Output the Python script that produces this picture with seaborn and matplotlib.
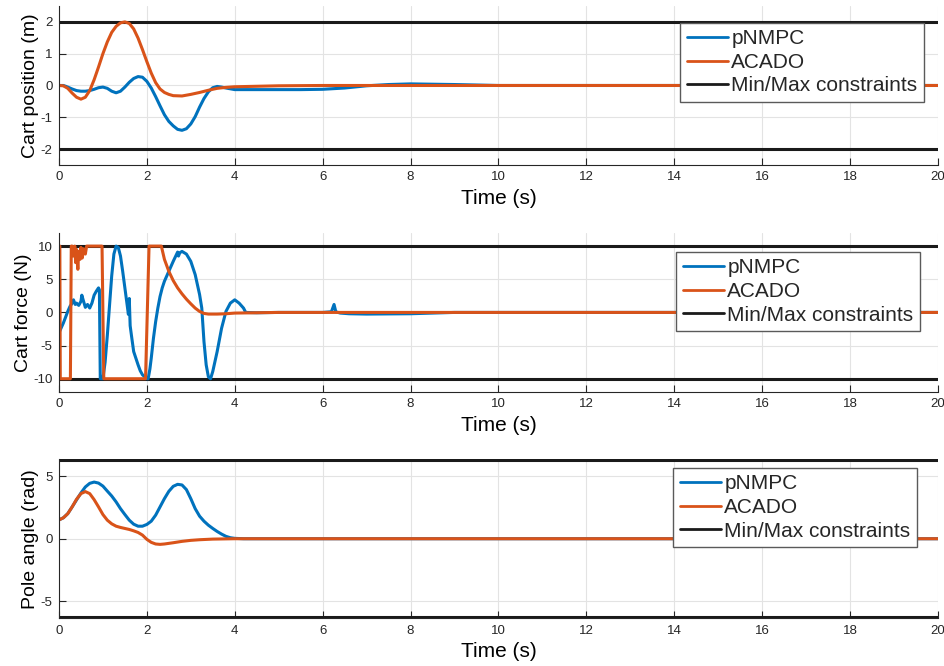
import numpy as np
import pandas as pd
import seaborn as sns
import matplotlib.pyplot as plt

# ---- cart position (m) ----
t_pos_pnmpc = [0, 0.1, 0.2, 0.3, 0.4, 0.5, 0.6, 0.7, 0.8, 0.9, 1.0, 1.1, 1.2, 1.3, 1.4,
               1.5, 1.6, 1.7, 1.8, 1.9, 2.0, 2.1, 2.2, 2.3, 2.4, 2.5, 2.6, 2.7, 2.8, 2.9,
               3.0, 3.1, 3.2, 3.3, 3.4, 3.5, 3.6, 3.7, 3.8, 4.0, 4.5, 5.0, 5.5, 6.0, 6.5,
               7.0, 7.5, 8.0, 8.5, 9.0, 10, 12, 14, 16, 18, 20]
pos_pnmpc = [0, 0, -0.05, -0.11, -0.16, -0.18, -0.18, -0.16, -0.12, -0.07, -0.05, -0.09,
             -0.18, -0.23, -0.18, -0.05, 0.1, 0.22, 0.28, 0.26, 0.13, -0.08, -0.35, -0.64,
             -0.92, -1.13, -1.27, -1.38, -1.41, -1.36, -1.21, -0.98, -0.68, -0.41, -0.2,
             -0.07, -0.03, -0.05, -0.08, -0.13, -0.13, -0.13, -0.13, -0.12, -0.08, -0.01,
             0.03, 0.05, 0.04, 0.03, 0, 0, 0, 0, 0, 0]

t_pos_acado = [0, 0.1, 0.2, 0.3, 0.4, 0.5, 0.6, 0.7, 0.8, 0.9, 1.0, 1.1, 1.2, 1.3, 1.4,
               1.5, 1.6, 1.7, 1.8, 1.9, 2.0, 2.1, 2.2, 2.3, 2.4, 2.5, 2.6, 2.8, 3.0, 3.2,
               3.4, 3.6, 3.8, 4.0, 5.0, 6.0, 8.0, 10, 20]
pos_acado = [0, -0.01, -0.09, -0.24, -0.37, -0.43, -0.37, -0.16, 0.18, 0.58, 1.0, 1.37,
             1.67, 1.86, 1.97, 2.0, 1.95, 1.78, 1.49, 1.13, 0.75, 0.39, 0.09, -0.11, -0.22,
             -0.28, -0.32, -0.33, -0.28, -0.22, -0.15, -0.09, -0.06, -0.04, -0.01, 0, 0, 0, 0]

# ---- cart force (N) ----
t_force_pnmpc = [0, 0.005, 0.1, 0.2, 0.25, 0.3, 0.33, 0.37, 0.4, 0.45, 0.5, 0.52, 0.55,
                 0.6, 0.65, 0.7, 0.75, 0.8, 0.85, 0.9, 0.92, 0.94, 1.0, 1.05, 1.1, 1.15,
                 1.2, 1.25, 1.3, 1.35, 1.4, 1.45, 1.5, 1.55, 1.58, 1.6, 1.62, 1.65, 1.7,
                 1.75, 1.8, 1.85, 1.9, 1.95, 2.0, 2.03, 2.07, 2.1, 2.15, 2.2, 2.25, 2.3,
                 2.35, 2.4, 2.5, 2.6, 2.7, 2.72, 2.75, 2.8, 2.9, 3.0, 3.1, 3.2, 3.25, 3.3,
                 3.35, 3.4, 3.45, 3.5, 3.6, 3.7, 3.8, 3.9, 4.0, 4.1, 4.2, 4.25, 4.5, 5.0,
                 6.0, 6.2, 6.26, 6.3, 6.4, 6.6, 7.0, 8.0, 8.5, 9.0, 10, 20]
force_pnmpc = [1.5, -3.0, -1.6, 0.15, 0.9, 1.4, 1.9, 1.2, 1.4, 1.06, 1.67, 2.6, 1.9,
               0.76, 1.2, 0.66, 1.4, 2.6, 3.2, 3.7, 3.4, -10, -10, -7.5, -3.5, 1.0,
               5.5, 8.8, 10, 9.8, 8.5, 6.2, 3.7, 1.2, -0.3, 2.1, -2.0, -3.5, -5.9,
               -6.9, -7.9, -8.8, -9.4, -9.7, -10, -10, -8.5, -6.9, -3.9, -1.4, 0.65, 2.4,
               3.7, 4.7, 6.2, 7.7, 9.1, 8.5, 9.0, 9.2, 8.8, 7.7, 5.7, 2.7, 0.65, -4.4,
               -7.9, -9.7, -10, -8.9, -5.9, -2.4, 0.15, 1.4, 1.9, 1.4, 0.65, 0, -0.05, 0,
               0, 0.1, 1.2, 0.1, -0.1, -0.2, -0.25, -0.2, -0.1, 0, 0, 0]

t_force_acado = [0, 0.02, 0.03, 0.26, 0.28, 0.30, 0.33, 0.36, 0.38, 0.40, 0.43, 0.45,
                 0.48, 0.50, 0.53, 0.56, 0.60, 0.63, 0.65, 0.98, 1.02, 1.97, 2.05, 2.33,
                 2.4, 2.5, 2.6, 2.7, 2.8, 2.9, 3.0, 3.1, 3.2, 3.3, 3.4, 3.6, 3.8, 4.0,
                 4.5, 5.0, 20]
force_acado = [10, 10, -10, -10, 10, 10, 8.5, 10, 7.5, 9.5, 6.5, 9.2, 8.0, 9.8, 8.2,
               9.6, 8.8, 10, 10, 10, -10, -10, 10, 10, 8.0, 6.2, 4.8, 3.7, 2.8, 2.0, 1.3,
               0.65, 0.15, -0.15, -0.25, -0.25, -0.2, -0.1, -0.05, 0, 0]

# ---- pole angle (rad) ----
t_ang_pnmpc = [0, 0.1, 0.2, 0.3, 0.4, 0.5, 0.6, 0.7, 0.8, 0.9, 1.0, 1.1, 1.2, 1.3, 1.4,
               1.5, 1.6, 1.7, 1.8, 1.9, 2.0, 2.1, 2.2, 2.3, 2.4, 2.5, 2.6, 2.7, 2.8, 2.9,
               3.0, 3.1, 3.2, 3.3, 3.4, 3.5, 3.6, 3.7, 3.8, 3.9, 4.0, 4.2, 6.0, 10, 20]
ang_pnmpc = [1.5, 1.67, 2.0, 2.54, 3.1, 3.65, 4.13, 4.42, 4.52, 4.44, 4.2, 3.8, 3.41,
             2.94, 2.4, 1.93, 1.48, 1.16, 1.0, 1.0, 1.14, 1.4, 1.88, 2.54, 3.2, 3.78, 4.18,
             4.34, 4.29, 3.92, 3.2, 2.4, 1.8, 1.4, 1.08, 0.82, 0.58, 0.37, 0.19, 0.08,
             0.03, 0, 0, 0, 0]

t_ang_acado = [0, 0.1, 0.2, 0.3, 0.4, 0.5, 0.6, 0.7, 0.8, 0.9, 1.0, 1.1, 1.2, 1.3, 1.4,
               1.5, 1.6, 1.7, 1.8, 1.9, 2.0, 2.1, 2.2, 2.3, 2.4, 2.6, 2.8, 3.0, 3.2, 3.5,
               4.0, 6.0, 10, 20]
ang_acado = [1.5, 1.67, 2.0, 2.54, 3.15, 3.6, 3.76, 3.6, 3.12, 2.54, 1.93, 1.48, 1.19,
             1.0, 0.9, 0.82, 0.74, 0.63, 0.5, 0.29, -0.05, -0.29, -0.42, -0.45, -0.42,
             -0.32, -0.21, -0.13, -0.08, -0.03, 0, 0, 0, 0]

limits = [2, 10, 2 * np.pi]
ylims = [(-2.5, 2.5), (-12, 12), (-6.35, 6.35)]
yticks = [[-2, -1, 0, 1, 2], [-10, -5, 0, 5, 10], [-5, 0, 5]]
ylabels = ["Cart position (m)", "Cart force (N)", "Pole angle (rad)"]
xticks = list(range(0, 21, 2))

BLUE = "#0072BD"
ORANGE = "#D95319"
AXCOL = "#262626"

sns.set_theme(style="whitegrid")
plt.rcParams['font.family'] = ['Liberation Sans', 'DejaVu Sans']
plt.rcParams['axes.unicode_minus'] = False

fig = plt.figure(figsize=(9.45, 6.66), dpi=100)
positions = [[0.0624, 0.7523, 0.930, 0.2387],
             [0.0624, 0.4114, 0.930, 0.2390],
             [0.0624, 0.0716, 0.930, 0.2390]]
legend_anchor = [(0.984, 0.893), (0.9795, 0.879), (0.976, 0.943)]

series = [(t_pos_pnmpc, pos_pnmpc, t_pos_acado, pos_acado),
          (t_force_pnmpc, force_pnmpc, t_force_acado, force_acado),
          (t_ang_pnmpc, ang_pnmpc, t_ang_acado, ang_acado)]

for i, (tp, yp, ta, ya) in enumerate(series):
    ax = fig.add_axes(positions[i])
    sns.lineplot(x=tp, y=yp, ax=ax, color=BLUE, lw=2.2, label="pNMPC",
                 estimator=None, sort=False, zorder=2)
    sns.lineplot(x=ta, y=ya, ax=ax, color=ORANGE, lw=2.2, label="ACADO",
                 estimator=None, sort=False, zorder=2.1)
    ax.axhline(limits[i], color="k", lw=2.2, zorder=1.9, label="Min/Max constraints")
    ax.axhline(-limits[i], color="k", lw=2.2, zorder=1.9)

    ax.set_xlim(0, 20)
    ax.set_ylim(*ylims[i])
    ax.set_xticks(xticks)
    ax.set_yticks(yticks[i])
    ax.grid(True, color="#e3e3e3", lw=0.8)
    for s in ["top", "right"]:
        ax.spines[s].set_visible(False)
    for s in ["left", "bottom"]:
        ax.spines[s].set_color(AXCOL)
        ax.spines[s].set_linewidth(0.8)
    ax.tick_params(direction="in", length=5, width=0.8, colors=AXCOL, labelsize=9.5,
                   bottom=True, left=True, pad=4.5)
    ax.set_xlabel("Time (s)", fontsize=15, color="black", labelpad=4)
    ax.set_ylabel(ylabels[i], fontsize=14, color="black", labelpad=1)

    leg = ax.legend(loc="upper right", bbox_to_anchor=legend_anchor[i], fontsize=15,
                    frameon=True, fancybox=False, framealpha=1, edgecolor="#5a5a5a",
                    handlelength=2.0, handletextpad=0.15, labelspacing=0.22,
                    borderpad=0.3, borderaxespad=0)
    leg.get_frame().set_linewidth(1.0)
    for line in leg.get_lines():
        line.set_linewidth(2.0)

fig.savefig("out.png", dpi=100)
